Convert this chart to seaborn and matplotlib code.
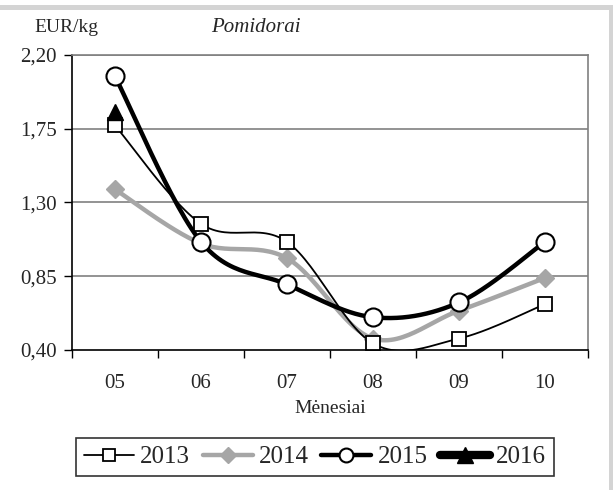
import numpy as np
import pandas as pd
import matplotlib
matplotlib.use("Agg")
import matplotlib.pyplot as plt
from matplotlib.lines import Line2D
from matplotlib.patches import Rectangle
import seaborn as sns

months = ["05", "06", "07", "08", "09", "10"]
v2013 = [1.77, 1.17, 1.06, 0.44, 0.47, 0.68]
v2014 = [1.38, 1.05, 0.96, 0.47, 0.64, 0.84]
v2015 = [2.07, 1.06, 0.80, 0.60, 0.69, 1.06]
v2016 = [1.85]
yticks = [0.40, 0.85, 1.30, 1.75, 2.20]
ytick_labels = ["0,40", "0,85", "1,30", "1,75", "2,20"]

sns.set_style("white")
plt.rcParams["font.family"] = ["Liberation Serif", "DejaVu Serif"]

TICK_FS = 15


def smooth(vals, n=30):
    """Excel-like smoothed Bezier (Catmull-Rom) through the points."""
    x = np.arange(len(vals), dtype=float)
    y = np.asarray(vals, dtype=float)
    P = np.column_stack([x, y])
    out = []
    for i in range(len(P) - 1):
        p0 = P[i - 1] if i > 0 else P[i]
        p1, p2 = P[i], P[i + 1]
        p3 = P[i + 2] if i + 2 < len(P) else P[i + 1]
        c1 = p1 + (p2 - p0) / 6.0
        c2 = p2 - (p3 - p1) / 6.0
        t = np.linspace(0, 1, n)[:, None]
        seg = ((1 - t) ** 3) * p1 + 3 * ((1 - t) ** 2) * t * c1 + 3 * (1 - t) * t ** 2 * c2 + t ** 3 * p2
        out.append(seg if i == 0 else seg[1:])
    s = np.vstack(out)
    return pd.DataFrame({"x": s[:, 0], "y": s[:, 1]})


fig = plt.figure(figsize=(6.13, 4.90), dpi=100)
ax = fig.add_axes([72 / 613, 1 - 350 / 490, (588 - 72) / 613, (350 - 55) / 490])

# gray frame strips
fig.patches.append(Rectangle((0, 1 - 10 / 490), 1, 5 / 490, transform=fig.transFigure,
                             facecolor="#d4d4d4", edgecolor="none", zorder=0))
fig.patches.append(Rectangle((1 - 4 / 613, 0), 4 / 613, 1 - 5 / 490, transform=fig.transFigure,
                             facecolor="#d4d4d4", edgecolor="none", zorder=0))

for yv in yticks[1:]:
    ax.axhline(yv, color="#808080", lw=1.2, zorder=1)

xs = np.arange(len(months))
s13, s14, s15 = smooth(v2013), smooth(v2014), smooth(v2015)

sns.lineplot(data=s14, x="x", y="y", sort=False, estimator=None, ax=ax,
             color="#a6a6a6", lw=3.2, zorder=3)
sns.lineplot(data=s13, x="x", y="y", sort=False, estimator=None, ax=ax,
             color="black", lw=1.3, zorder=4)
sns.lineplot(data=s15, x="x", y="y", sort=False, estimator=None, ax=ax,
             color="black", lw=3.2, zorder=5)

ax.plot(xs, v2014, ls="none", marker="D", ms=9, mfc="#a6a6a6", mec="#a6a6a6", zorder=6)
ax.plot(xs, v2013, ls="none", marker="s", ms=10, mfc="white", mec="black", mew=1.3, zorder=7)
ax.plot(xs[:len(v2016)], v2016, ls="none", marker="^", ms=12, mfc="black", mec="black", zorder=8)
ax.plot(xs, v2015, ls="none", marker="o", ms=13, mfc="white", mec="black", mew=1.5, zorder=9)

ax.set_xlim(-0.5, 5.5)
ax.set_ylim(0.40, 2.20)
ax.set_yticks(yticks)
ax.set_yticklabels(ytick_labels, fontsize=TICK_FS)
ax.set_xticks(xs)
ax.set_xticklabels(months, fontsize=TICK_FS)
ax.set_xticks(np.arange(-0.5, 6.0, 1.0), minor=True)
ax.tick_params(axis="x", which="major", length=0, pad=17)
ax.tick_params(axis="x", which="minor", length=6, width=1, color="black", direction="out", bottom=True)
ax.tick_params(axis="y", length=6, width=1, color="black", direction="out", left=True, pad=5)
ax.set_xlabel("Mėnesiai", fontsize=14, labelpad=5)
ax.set_ylabel("")

for side in ["left", "bottom"]:
    ax.spines[side].set_color("black")
    ax.spines[side].set_linewidth(1.2)
for side in ["top", "right"]:
    ax.spines[side].set_visible(True)
    ax.spines[side].set_color("#808080")
    ax.spines[side].set_linewidth(1.2)

fig.text(66 / 613, 1 - 28 / 490, "EUR/kg", ha="center", va="center", fontsize=14)
fig.text(256 / 613, 1 - 28 / 490, "Pomidorai", ha="center", va="center",
         fontsize=15, style="italic")

handles = [
    Line2D([], [], color="black", lw=1.3, marker="s", ms=9, mfc="white", mec="black", mew=1.3),
    Line2D([], [], color="#a6a6a6", lw=3.2, marker="D", ms=8, mfc="#a6a6a6", mec="#a6a6a6"),
    Line2D([], [], color="black", lw=3.2, marker="o", ms=10, mfc="white", mec="black", mew=1.5),
    Line2D([], [], color="black", lw=6, marker="^", ms=11, mfc="black", mec="black"),
]
leg = fig.legend(handles, ["2013", "2014", "2015", "2016"], loc="center",
                 bbox_to_anchor=(315 / 613, 1 - 457 / 490), ncol=4, frameon=True,
                 fontsize=18, handlelength=2.0, handletextpad=0.25, columnspacing=0.5,
                 fancybox=False, borderpad=0.3, borderaxespad=0)
leg.get_frame().set_edgecolor("black")
leg.get_frame().set_linewidth(1.2)

fig.savefig("out.png", dpi=100)
